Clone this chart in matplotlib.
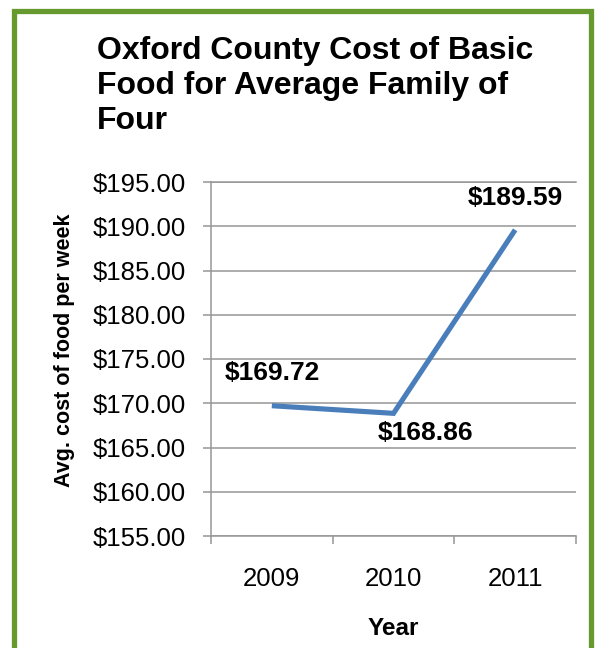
import matplotlib
matplotlib.use("Agg")
import matplotlib.pyplot as plt
from matplotlib.patches import Rectangle

plt.rcParams['font.family'] = ['Liberation Sans', 'DejaVu Sans']

# weekly food cost, Oxford County
years = ["2009", "2010", "2011"]
cost = [169.72, 168.86, 189.59]
y_ticks = [155, 160, 165, 170, 175, 180, 185, 190, 195]
label_offsets = [(0, 33), (32, -20), (0, 32)]  # pixels, per point

W, H = 597, 648
fig = plt.figure(figsize=(W / 100, H / 100), dpi=100)

# green frame around the chart area
fig.patches.append(Rectangle((14 / W, -0.05), (591 - 14) / W, 1.05 - 10.5 / H,
                             transform=fig.transFigure, fill=False,
                             edgecolor='#66992e', linewidth=3.8))

ax = fig.add_axes([211 / W, (H - 536) / H, 365 / W, 354 / H])
grey = '#969696'

x = list(range(len(years)))
ax.plot(x, cost, color='#4a7ebb', linewidth=3.7, solid_capstyle='butt',
        solid_joinstyle='miter')

for xi, v, (dx, dy) in zip(x, cost, label_offsets):
    ax.annotate("${:.2f}".format(v), (xi, v), xytext=(dx * 0.72, dy * 0.72),
                textcoords='offset points', ha='center', va='center',
                fontsize=19, fontweight='bold')

ax.set_xlim(-0.5, len(years) - 0.5)
ax.set_ylim(y_ticks[0], y_ticks[-1])
ax.set_yticks(y_ticks)
ax.set_yticklabels(["${:.2f}".format(t) for t in y_ticks])
ax.set_xticks(x)
ax.set_xticklabels(years)
ax.set_xticks([i - 0.5 for i in range(len(years) + 1)], minor=True)

ax.grid(axis='y', color=grey, linewidth=1.1)
ax.set_axisbelow(True)
ax.spines['right'].set_visible(False)
for side in ['left', 'bottom', 'top']:
    ax.spines[side].set_color(grey)
    ax.spines[side].set_linewidth(1.1)

ax.tick_params(axis='y', length=6, width=1.1, color=grey, pad=12,
               labelsize=18.5)
ax.tick_params(axis='x', which='major', length=0, pad=22, labelsize=18.5)
ax.tick_params(axis='x', which='minor', length=6, width=1.1, color=grey)

ax.set_xlabel("Year", fontsize=17.5, fontweight='bold', labelpad=19)
ax.set_ylabel("Avg. cost of food per week", fontsize=15.5, fontweight='bold',
              labelpad=13, y=0.525)

fig.text(97 / W, 1 - 36 / H,
         "Oxford County Cost of Basic\nFood for Average Family of\nFour",
         ha='left', va='top', fontsize=23, fontweight='bold', linespacing=1.22)

fig.savefig("out.png", dpi=100)
